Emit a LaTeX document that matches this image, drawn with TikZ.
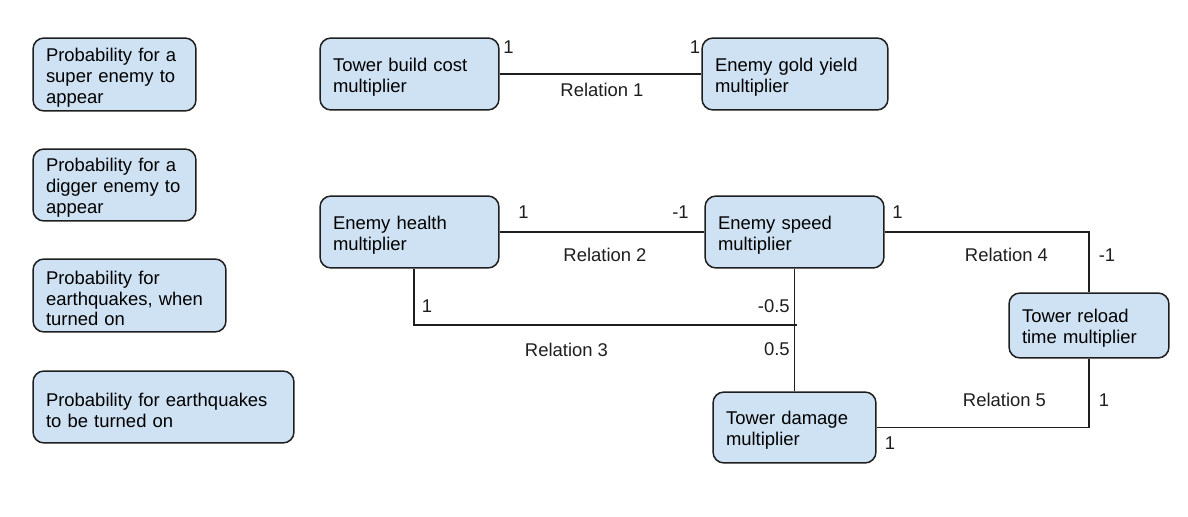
\documentclass[tikz,border=0pt]{standalone}
\usepackage{fontspec}
\setmainfont{Liberation Sans}
\definecolor{boxfill}{RGB}{207,226,243}
\definecolor{ink}{RGB}{30,30,30}
\tikzset{
  bx/.style={draw=ink, fill=boxfill, line width=0.85pt, rounded corners=0.22cm,
    align=left, inner xsep=0.26cm, inner ysep=0pt,
    font=\fontsize{10.5}{11.9}\selectfont,
    execute at begin node={\rule{0pt}{11pt}}},
  lbl/.style={inner sep=0pt, font=\fontsize{10.5}{11.9}\selectfont, text=ink},
  wire/.style={draw=ink, line width=0.85pt}
}
\begin{document}
\begin{tikzpicture}[x=0.02cm, y=-0.02cm]
\useasboundingbox (0,0) rectangle (1188,517);
% left column
\node[bx, text width=2.74cm, minimum height=1.46cm] (pa) at (114.5,74.5) {Probability for a\\super enemy to\\appear};
\node[bx, text width=2.74cm, minimum height=1.44cm] (pb) at (114.5,185) {Probability for a\\digger enemy to\\appear};
\node[bx, text width=3.34cm, minimum height=1.46cm] (pc) at (129.5,295.5) {Probability for\\earthquakes, when\\turned on};
\node[bx, text width=4.70cm, minimum height=1.44cm] (pd) at (163.5,407) {Probability for earthquakes\\to be turned on};
% graph
\node[bx, text width=3.06cm, minimum height=1.44cm] (tbc) at (409.5,74) {Tower build cost\\multiplier};
\node[bx, text width=3.20cm, minimum height=1.44cm] (egy) at (795,74) {Enemy gold yield\\multiplier};
\node[bx, text width=3.06cm, minimum height=1.44cm] (eh) at (409.5,232) {Enemy health\\multiplier};
\node[bx, text width=3.06cm, minimum height=1.44cm] (es) at (794.5,232) {Enemy speed\\multiplier};
\node[bx, text width=2.74cm, minimum height=1.42cm] (td) at (794.5,427.5) {Tower damage\\multiplier};
\node[bx, text width=2.68cm, minimum height=1.30cm] (tr) at (1089,325.5) {Tower reload\\time multiplier};
% relation 1
\draw[wire] (tbc.east) -- (egy.west);
\node[lbl] (r1a) at (508.5,47) {1};
\node[lbl] (r1b) at (695,47) {1};
\node[lbl] (r1) at (602,90) {Relation 1};
% relation 2
\draw[wire] (eh.east) -- (es.west);
\node[lbl] (r2a) at (523.5,212.5) {1};
\node[lbl] (r2b) at (680.5,212.5) {-1};
\node[lbl] (r2) at (605,255) {Relation 2};
% relation 3
\coordinate (r3l) at (414,325);
\coordinate (r3r) at (797,325);
\draw[wire] (eh.south -| r3l) -- (r3l) -- (r3r);
\draw[wire] (es.south) -- (td.north);
\node[lbl] (r3a) at (427,306.5) {1};
\node[lbl, anchor=east] (r3b) at (790,306.5) {-0.5};
\node[lbl] (r3) at (566.5,349.5) {Relation 3};
\node[lbl, anchor=east] (r3c) at (790,349.5) {0.5};
% relation 4
\draw[wire] (es.east) -- (es.east -| tr.north) -- (tr.north);
\node[lbl] (r4a) at (897.5,212) {1};
\node[lbl] (r4b) at (1107,255.5) {-1};
\node[lbl] (r4) at (1006.5,255) {Relation 4};
% relation 5
\draw[wire] (td.east) -- (td.east -| tr.south) -- (tr.south);
\node[lbl] (r5a) at (890,443) {1};
\node[lbl] (r5b) at (1104,400) {1};
\node[lbl] (r5) at (1004.5,400) {Relation 5};
\end{tikzpicture}
\end{document}
